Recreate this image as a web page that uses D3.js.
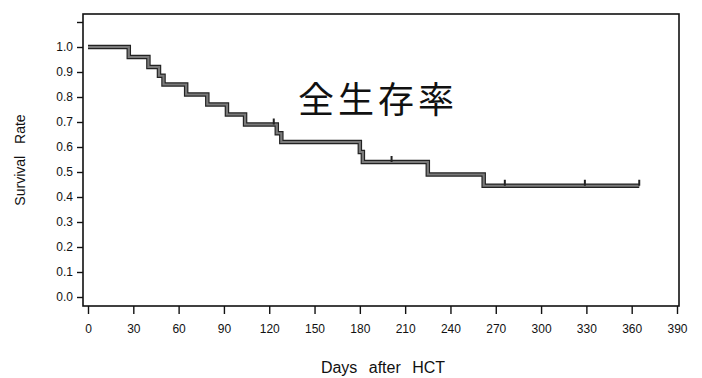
<!DOCTYPE html>
<html>
<head>
<meta charset="utf-8">
<script src="https://cdn.jsdelivr.net/npm/d3@7"></script>
<style>
  body { margin: 0; background: #fff; }
  text { font-family: "Liberation Sans", Arial, sans-serif; fill: #111; }
</style>
</head>
<body>
<div id="chart"></div>
<script>
// Kaplan-Meier steps: day of each drop and survival after it
const stepDays = [0, 27, 40, 47, 50, 65, 79, 92, 104, 125, 128, 180, 182, 225, 262];
const stepSurv = [1.0, 0.96, 0.92, 0.885, 0.85, 0.81, 0.77, 0.73, 0.69, 0.655, 0.62, 0.58, 0.54, 0.49, 0.445];
const lastDay = 365;
const censorDays = [123, 201, 276, 329, 365];
const xTicks = [0, 30, 60, 90, 120, 150, 180, 210, 240, 270, 300, 330, 360, 390];
const yTicks = [0, 0.1, 0.2, 0.3, 0.4, 0.5, 0.6, 0.7, 0.8, 0.9, 1.0, 1.1];

const width = 702, height = 378;
const frame = { left: 83, top: 14, right: 679, bottom: 306 };

const svg = d3.select('#chart')
  .append('svg')
  .attr('width', width)
  .attr('height', height);

const x = d3.scaleLinear().domain([0, 390]).range([88, 677]);
const y = d3.scaleLinear().domain([0, 1]).range([297, 47]);

// frame
svg.append('rect')
  .attr('x', frame.left).attr('y', frame.top)
  .attr('width', frame.right - frame.left)
  .attr('height', frame.bottom - frame.top)
  .attr('fill', 'none').attr('stroke', '#111').attr('stroke-width', 1.6);

// y axis
const yAxis = d3.axisLeft(y)
  .tickValues(yTicks)
  .tickSize(6)
  .tickPadding(4)
  .tickFormat(d => d <= 1.0001 ? d3.format('.1f')(d) : '');
svg.append('g')
  .attr('transform', `translate(${frame.left},0)`)
  .call(yAxis)
  .call(g => g.select('.domain').remove())
  .call(g => g.selectAll('line').attr('stroke', '#111').attr('stroke-width', 1.4))
  .call(g => g.selectAll('text').attr('font-size', 12).attr('fill', '#111')
    .style('font-family', '"Liberation Sans", Arial, sans-serif'));

// x axis
const xAxis = d3.axisBottom(x)
  .tickValues(xTicks)
  .tickSize(8)
  .tickPadding(10)
  .tickFormat(d3.format('d'));
svg.append('g')
  .attr('transform', `translate(0,${frame.bottom})`)
  .call(xAxis)
  .call(g => g.select('.domain').remove())
  .call(g => g.selectAll('line').attr('stroke', '#111').attr('stroke-width', 1.4))
  .call(g => g.selectAll('text').attr('font-size', 12).attr('fill', '#111')
    .style('font-family', '"Liberation Sans", Arial, sans-serif'));

// axis titles
svg.append('text')
  .attr('x', 383).attr('y', 373)
  .attr('text-anchor', 'middle')
  .attr('font-size', 16)
  .style('word-spacing', '7px')
  .text('Days after HCT');

svg.append('text')
  .attr('transform', 'translate(25,160) rotate(-90)')
  .attr('text-anchor', 'middle')
  .attr('font-size', 14)
  .style('word-spacing', '8px')
  .text('Survival Rate');

// survival curve
const pts = stepDays.map((d, i) => [d, stepSurv[i]]);
pts.push([lastDay, stepSurv[stepSurv.length - 1]]);

const line = d3.line()
  .x(d => x(d[0]))
  .y(d => y(d[1]))
  .curve(d3.curveStepAfter);

svg.append('path')
  .attr('d', line(pts))
  .attr('fill', 'none')
  .attr('stroke', '#222')
  .attr('stroke-width', 4.5);
svg.append('path')
  .attr('d', line(pts))
  .attr('fill', 'none')
  .attr('stroke', '#7a7a7a')
  .attr('stroke-width', 2.2);

// censor marks
function survAt(day) {
  let s = stepSurv[0];
  stepDays.forEach((d, i) => { if (d <= day) s = stepSurv[i]; });
  return s;
}
svg.selectAll('line.censor')
  .data(censorDays)
  .enter()
  .append('line')
  .attr('class', 'censor')
  .attr('x1', d => x(d)).attr('x2', d => x(d))
  .attr('y1', d => y(survAt(d)))
  .attr('y2', d => y(survAt(d)) - 6)
  .attr('stroke', '#222')
  .attr('stroke-width', 2);

// title inside plot
svg.append('text')
  .attr('x', 298).attr('y', 113)
  .attr('font-size', 36)
  .style('font-family', '"Noto Sans CJK JP", "Noto Sans CJK SC", sans-serif')
  .style('letter-spacing', '4px')
  .text('全生存率');
</script>
</body>
</html>
